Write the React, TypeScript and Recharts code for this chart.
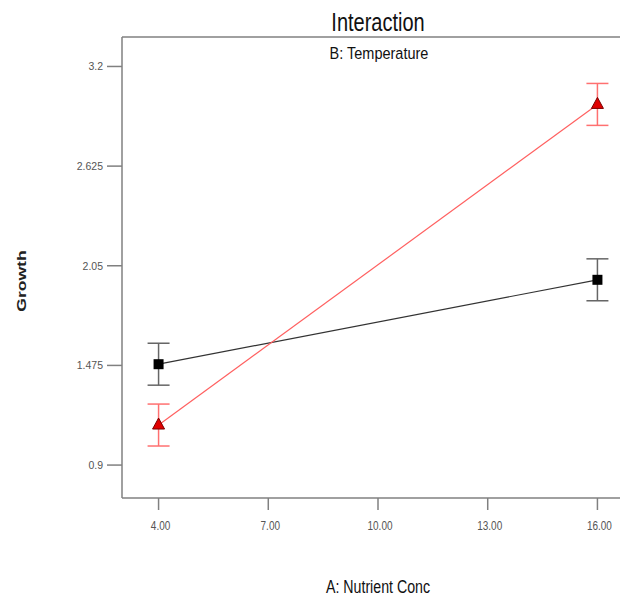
import React from "react";
import { LineChart, Line, XAxis, YAxis, ErrorBar, ReferenceLine } from "recharts";

// A: Nutrient Conc levels
const nutrientLevels = [4, 16];
// B: Temperature low (black squares) and high (red triangles)
const growthBLow = [1.482, 1.969];
const growthBHigh = [1.131, 2.981];
const errBLow = [0.121, 0.121];
const errBHigh = [0.121, 0.121];

const xTicks = [4, 7, 10, 13, 16];
const yTicks = [0.9, 1.475, 2.05, 2.625, 3.2];

const data = nutrientLevels.map((a, i) => ({
    a,
    low: growthBLow[i],
    high: growthBHigh[i],
    lowErr: errBLow[i],
    highErr: errBHigh[i],
}));

const FONT = "'Liberation Sans', Arial, sans-serif";
const AXIS = "#808080";

const XTick = (props: any) => {
    const { x, y, payload } = props;
    return (
        <g transform={`translate(${x + 2},${y + 18}) scale(1,1.25)`}>
            <text x={0} y={0} textAnchor="middle" fontSize={10} fontFamily={FONT} fill="#555">
                {Number(payload.value).toFixed(2)}
            </text>
        </g>
    );
};

const YTick = (props: any) => {
    const { x, y, payload } = props;
    return (
        <g transform={`translate(${x - 2},${y + 4}) scale(1,1.1)`}>
            <text x={0} y={0} textAnchor="end" fontSize={10.5} fontFamily={FONT} fill="#555">
                {String(payload.value)}
            </text>
        </g>
    );
};

const SquareDot = (props: any) => {
    const { cx, cy, index } = props;
    if (cx == null || cy == null) return <g key={`s${index}`} />;
    return <rect key={`s${index}`} x={cx - 5} y={cy - 5} width={10} height={10} fill="#000" />;
};

const TriangleDot = (props: any) => {
    const { cx, cy, index } = props;
    if (cx == null || cy == null) return <g key={`t${index}`} />;
    return (
        <polygon
            key={`t${index}`}
            points={`${cx},${cy - 7} ${cx - 6},${cy + 4} ${cx + 6},${cy + 4}`}
            fill="#e00000"
            stroke="#7a0000"
            strokeWidth={1}
        />
    );
};

const App = () => {
    return (
        <div style={{ position: "relative", width: 620, height: 591, overflow: "hidden" }}>
            <LineChart
                width={630}
                height={591}
                data={data}
                margin={{ top: 29, right: 4, bottom: 1, left: 0 }}
            >
                <XAxis
                    dataKey="a"
                    type="number"
                    domain={[3, 17]}
                    ticks={xTicks}
                    height={100}
                    tickSize={12}
                    stroke={AXIS}
                    strokeWidth={1.5}
                    tick={<XTick />}
                />
                <YAxis
                    type="number"
                    domain={[0.71, 3.37]}
                    ticks={yTicks}
                    width={114}
                    tickSize={15}
                    stroke={AXIS}
                    strokeWidth={1.5}
                    tick={<YTick />}
                />
                <ReferenceLine y={3.37} stroke={AXIS} strokeWidth={1.5} />
                <Line
                    dataKey="low"
                    stroke="#333"
                    strokeWidth={1.2}
                    dot={SquareDot}
                    activeDot={false}
                    isAnimationActive={false}
                >
                    <ErrorBar dataKey="lowErr" width={11} stroke="#666" strokeWidth={1.5} direction="y" />
                </Line>
                <Line
                    dataKey="high"
                    stroke="#ff6060"
                    strokeWidth={1.2}
                    dot={TriangleDot}
                    activeDot={false}
                    isAnimationActive={false}
                >
                    <ErrorBar dataKey="highErr" width={11} stroke="#ff7070" strokeWidth={1.5} direction="y" />
                </Line>
            </LineChart>
            <svg
                width={620}
                height={591}
                style={{ position: "absolute", left: 0, top: 0, pointerEvents: "none" }}
            >
                <text
                    transform="translate(370,23) scale(1,1.33)"
                    textAnchor="middle"
                    fontSize={20}
                    fontFamily={FONT}
                    fill="#111"
                >
                    Interaction
                </text>
                <text
                    transform="translate(371,51) scale(1,1.2)"
                    textAnchor="middle"
                    fontSize={14.5}
                    fontFamily={FONT}
                    fill="#111"
                >
                    B: Temperature
                </text>
                <text
                    transform="translate(370,585) scale(1,1.33)"
                    textAnchor="middle"
                    fontSize={14.2}
                    fontFamily={FONT}
                    fill="#111"
                >
                    A: Nutrient Conc
                </text>
                <text
                    transform="translate(18,273) rotate(-90) scale(1.3,1)"
                    textAnchor="middle"
                    fontSize={13.5}
                    fontWeight="bold"
                    fontFamily={FONT}
                    fill="#222"
                >
                    Growth
                </text>
            </svg>
        </div>
    );
};

export default App;
